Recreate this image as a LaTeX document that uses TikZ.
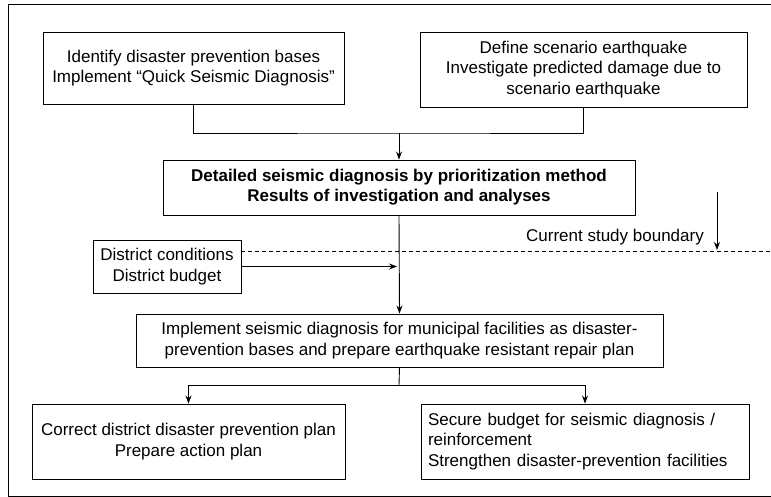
\documentclass[tikz,border=0pt]{standalone}
\usepackage{fontspec}
\setmainfont{Liberation Sans}
\usetikzlibrary{arrows.meta}
\begin{document}
\begin{tikzpicture}[x=1pt,y=-1pt,
  box/.style={draw, line width=0.9pt, inner sep=0pt, align=center,
    font=\fontsize{17}{20.5}\selectfont},
  conn/.style={line width=0.9pt},
  arr/.style={conn, -{Stealth[length=8pt,width=6pt]}}]
\useasboundingbox (0,0) rectangle (771,497);
% outer frame
\draw[line width=1pt] (771,5) -- (8,5) -- (8,496) -- (771,496);
% boxes
\node[box, minimum width=301pt, minimum height=72pt] (b1) at (193.5,68)
  {Identify disaster prevention bases\\Implement “Quick Seismic Diagnosis”};
\node[box, minimum width=327pt, minimum height=75pt] (b2) at (583.5,69.5)
  {Define scenario earthquake\\Investigate predicted damage due to\\scenario earthquake};
\node[box, minimum width=472pt, minimum height=55pt, font=\fontsize{17}{20}\selectfont\bfseries] (det) at (399,187.5)
  {Detailed seismic diagnosis by prioritization method\\Results of investigation and analyses};
\node[box, minimum width=148pt, minimum height=53pt] (dist) at (167,266.5)
  {District conditions\\District budget};
\node[box, minimum width=527pt, minimum height=53pt] (imp) at (399.5,340.5)
  {Implement seismic diagnosis for municipal facilities as disaster-\\prevention bases and prepare earthquake resistant repair plan};
\node[box, minimum width=313pt, minimum height=75pt] (bl) at (188.5,441.5)
  {Correct district disaster prevention plan\\Prepare action plan};
\node[box, minimum width=328pt, minimum height=75pt, text width=314pt, inner xsep=7pt, align=left] (br) at (585,441.5)
  {Secure budget for seismic diagnosis /\\reinforcement\\Strengthen disaster-prevention facilities};
\node[anchor=east, inner sep=0pt, font=\fontsize{17}{20}\selectfont] (csb) at (704,237) {Current study boundary};
% connectors
\coordinate (j) at (399,133);
\draw[conn] (b1.south) |- (j) -| (b2.south);
\draw[arr] (j) -- (det.north);
\draw[arr] (det.south) -- (imp.north);
\draw[arr, shorten >=2pt] (dist.east) -- (det.south |- dist.east);
\coordinate (dl) at (241,251);
\coordinate (dr) at (771,251);
\draw[conn, dashed, dash pattern=on 4pt off 3pt] (dist.east |- dl) -- (dr);
\coordinate (cs1) at (717,192);
\coordinate (cs2) at (717,250);
\draw[arr] (cs1) -- (cs2);
\coordinate (k) at (399,385);
\draw[conn] (imp.south) -- (k);
\draw[arr] (k) -| (bl.north);
\draw[arr] (k) -| (br.north);
\end{tikzpicture}
\end{document}
